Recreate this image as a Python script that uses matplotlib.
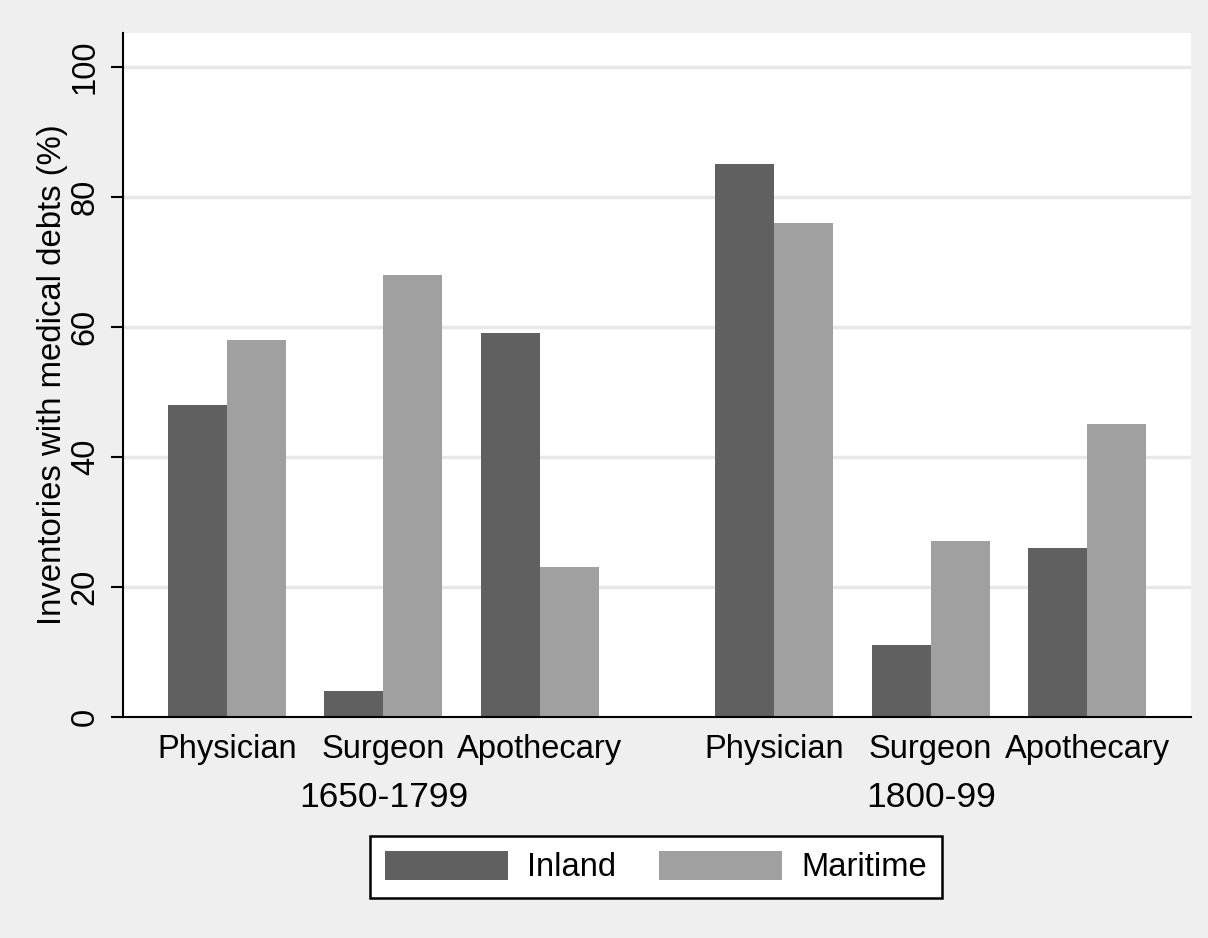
import matplotlib.pyplot as plt
import numpy as np

plt.rcParams['font.family'] = ['Liberation Sans', 'DejaVu Sans']

periods = ['1650-1799', '1800-99']
practitioners = ['Physician', 'Surgeon', 'Apothecary']
inland = [48, 4, 59, 85, 11, 26]
maritime = [58, 68, 23, 76, 27, 45]

dark = '#606060'
light = '#a0a0a0'

# three pairs per period, a wider gap between periods
pos = np.array([0, 1, 2, 3.5, 4.5, 5.5])
w = 0.377

fig = plt.figure(figsize=(12.08, 9.38), dpi=100, facecolor='#efefef')
ax = fig.add_axes([0.1018, 0.2356, 0.8841, 0.7292])
ax.set_facecolor('white')

ax.bar(pos - w / 2, inland, w, color=dark, label='Inland', zorder=3)
ax.bar(pos + w / 2, maritime, w, color=light, label='Maritime', zorder=3)

ax.set_xlim(-0.665, 6.164)
ax.set_ylim(0, 105.2)
ax.set_yticks([0, 20, 40, 60, 80, 100])
ax.set_yticklabels(['0', '20', '40', '60', '80', '100'], rotation=90, va='center', fontsize=23.5)
ax.tick_params(axis='y', length=9, width=1.5, pad=7)
ax.set_xticks(pos)
ax.set_xticklabels(practitioners * 2, fontsize=23.5)
ax.tick_params(axis='x', length=0, pad=12)

for y in [20, 40, 60, 80, 100]:
    ax.axhline(y, color='#e8e8e8', lw=2.5, zorder=1)

for s in ['top', 'right']:
    ax.spines[s].set_visible(False)
ax.spines['left'].set_linewidth(1.5)
ax.spines['bottom'].set_linewidth(1.5)
ax.spines['bottom'].set_zorder(4)

ax.set_ylabel('Inventories with medical debts (%)', fontsize=23.7, labelpad=1)

for i, p in enumerate(periods):
    ax.text(pos[3 * i + 1], -0.117, p, transform=ax.get_xaxis_transform(),
            ha='center', va='center', fontsize=25.5)

leg = fig.legend(loc='center', bbox_to_anchor=(656 / 1208, 1 - 867 / 938), ncol=2,
                 fontsize=23.6, frameon=True, fancybox=False, edgecolor='black',
                 framealpha=1, facecolor='white',
                 handlelength=3.75, handleheight=1.0, handletextpad=0.6,
                 columnspacing=1.3, borderpad=0.45)
leg.get_frame().set_linewidth(1.8)

fig.savefig('out.png', dpi=100, facecolor=fig.get_facecolor())
